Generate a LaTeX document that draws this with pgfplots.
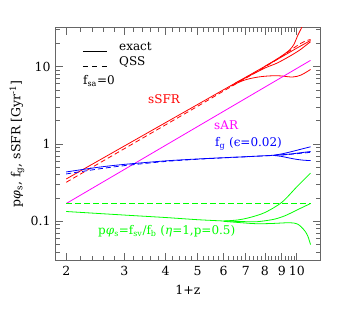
\documentclass[border=0pt]{standalone}
\usepackage{fontspec}
\setmainfont{DejaVu Serif}
\usepackage{pgfplots}
\pgfplotsset{compat=1.18}
\definecolor{cred}{RGB}{255,0,0}
\definecolor{cmag}{RGB}{255,0,255}
\definecolor{cblue}{RGB}{0,0,255}
\definecolor{cgreen}{RGB}{0,255,0}
\newcommand{\tfont}{\fontsize{12}{14}\selectfont}
\newcommand{\kfont}{\fontsize{12.5}{14}\selectfont}
\begin{document}
\begin{tikzpicture}
\path[use as bounding box] (-56pt,-59pt) rectangle (293pt,260pt);
\begin{axis}[
  at={(0pt,0pt)}, anchor=south west,
  scale only axis, width=264pt, height=232pt,
  xmode=log, ymode=log,
  xmin=1.862, xmax=11.75, ymin=0.03162, ymax=31.62,
  xtick={2,3,4,5,6,7,8,9,10},
  xticklabels={2,3,4,5,6,7,8,9,10},
  minor xtick={2.2,2.4,2.6,2.8,3.2,3.4,3.6,3.8,4.2,4.4,4.6,4.8,5.2,5.4,5.6,5.8,6.2,6.4,6.6,6.8,7.2,7.4,7.6,7.8,8.2,8.4,8.6,8.8,9.2,9.4,9.6,9.8},
  ytick={0.1,1,10},
  yticklabels={0.1,1,10},
  minor ytick={0.04,0.05,0.06,0.07,0.08,0.09,0.2,0.3,0.4,0.5,0.6,0.7,0.8,0.9,2,3,4,5,6,7,8,9,20,30},
  tick align=inside,
  major tick length=7pt, minor tick length=4pt,
  every tick/.style={black!60, line width=0.8pt},
  axis line style={black!60, line width=1pt},
  tick label style={font=\kfont},
  xticklabel style={yshift=-3pt},
  yticklabel style={xshift=-2pt},
  label style={font=\kfont},
  xlabel={1+z},
  xlabel style={at={(axis description cs:0.5,-0.129)}, anchor=center},
  ylabel={p\textit{φ}\textsubscript{s}, f\textsubscript{g}, sSFR [Gyr\textsuperscript{-1}]},
  ylabel style={at={(axis description cs:-0.148,0.5)}, anchor=center},
  every axis plot/.append style={line width=0.8pt},
]
% sSFR (red)
\addplot[cred] coordinates {(2,0.353)(3,0.942)(4,1.89)(5,3.24)(6,5.04)(7,7.31)(8,10.1)(9,13.4)(10,17.4)(11,21.8)};
\addplot[cred, smooth] coordinates {(8,10.1)(8.5,11.8)(9,13.8)(9.5,16.4)(9.8,19.5)(10.07,25.6)(10.3,31)(10.45,36)};
\addplot[cred, smooth] coordinates {(6.5,6.12)(7,7.2)(8,9.6)(8.7,11.1)(9.5,13.6)(10.2,16.4)(10.8,19.8)(11,21)};
\addplot[cred, smooth] coordinates {(6.3,5.6)(6.8,6.5)(7.2,7.0)(7.73,7.4)(8.3,7.6)(8.9,7.6)(9.7,7.35)(10.3,7.8)(11,9.2)};
\addplot[cred, smooth, dash pattern=on 5pt off 3pt] coordinates {(2,0.32)(3,0.87)(4,1.77)(5,3.07)(6,4.85)(7,7.1)(8,9.9)(9,13.6)(10,18.6)(10.5,21)(11,22.5)};
% sAR (magenta)
\addplot[cmag] coordinates {(2,0.17)(11,12.06)};
% f_g (blue)
\addplot[cblue, smooth] coordinates {(2,0.435)(2.5,0.5)(3,0.545)(4,0.605)(5,0.64)(6,0.665)(7,0.685)(8,0.705)(8.5,0.715)};
\addplot[cblue, smooth] coordinates {(8.5,0.715)(9,0.745)(9.5,0.785)(10,0.83)(10.5,0.875)(11,0.92)};
\addplot[cblue, smooth] coordinates {(8.5,0.715)(9,0.725)(9.5,0.74)(10,0.76)(10.5,0.78)(11,0.80)};
\addplot[cblue, smooth] coordinates {(8.5,0.712)(9,0.69)(9.5,0.658)(10,0.632)(10.5,0.617)(11,0.61)};
\addplot[cblue, smooth, dash pattern=on 5pt off 3pt] coordinates {(2,0.41)(2.5,0.475)(3,0.525)(4,0.595)(5,0.635)(6,0.662)(7,0.683)(8,0.703)(9,0.72)(10,0.75)(11,0.78)};
% p phi_s (green)
\addplot[cgreen, dash pattern=on 6pt off 3pt] coordinates {(2,0.17)(11,0.17)};
\addplot[cgreen, smooth] coordinates {(2,0.134)(3,0.1205)(4,0.112)(5,0.105)(6,0.101)};
\addplot[cgreen, smooth] coordinates {(6,0.101)(6.6,0.104)(7.2,0.112)(8,0.13)(9,0.176)(10,0.28)(11,0.42)};
\addplot[cgreen, smooth] coordinates {(6,0.101)(7,0.099)(7.6,0.099)(8.5,0.106)(9.2,0.118)(10,0.14)(11,0.17)};
\addplot[cgreen, smooth] coordinates {(6,0.1)(7,0.095)(7.6,0.093)(8.5,0.094)(9.5,0.096)(10,0.093)(10.3,0.085)(10.6,0.074)(10.8,0.064)(11,0.05)};
\end{axis}
% legend and labels
\draw[black, line width=0.8pt] (27pt,209pt) -- (51pt,209pt);
\node[anchor=base west, inner sep=0pt, font=\tfont] at (63pt,209.5pt) {exact};
\draw[black, line width=0.8pt, dash pattern=on 5pt off 4.5pt] (27pt,193.5pt) -- (51pt,193.5pt);
\node[anchor=base west, inner sep=0pt, font=\tfont] at (63pt,194pt) {QSS};
\node[anchor=base west, inner sep=0pt, font=\tfont] at (27pt,175pt) {f\textsubscript{sa}=0};
\node[anchor=base west, inner sep=0pt, font=\tfont, text=cred] at (92pt,156pt) {sSFR};
\node[anchor=base west, inner sep=0pt, font=\tfont, text=cmag] at (158pt,130.7pt) {sAR};
\node[anchor=base west, inner sep=0pt, font=\tfont, text=cblue] at (159pt,113pt) {f\textsubscript{g} (ϵ=0.02)};
\node[anchor=base west, inner sep=0pt, font=\tfont, text=cgreen] at (42pt,25pt) {p\textit{φ}\textsubscript{s}=f\textsubscript{sv}/f\textsubscript{b} (\textit{η}=1,p=0.5)};
\end{tikzpicture}
\end{document}
